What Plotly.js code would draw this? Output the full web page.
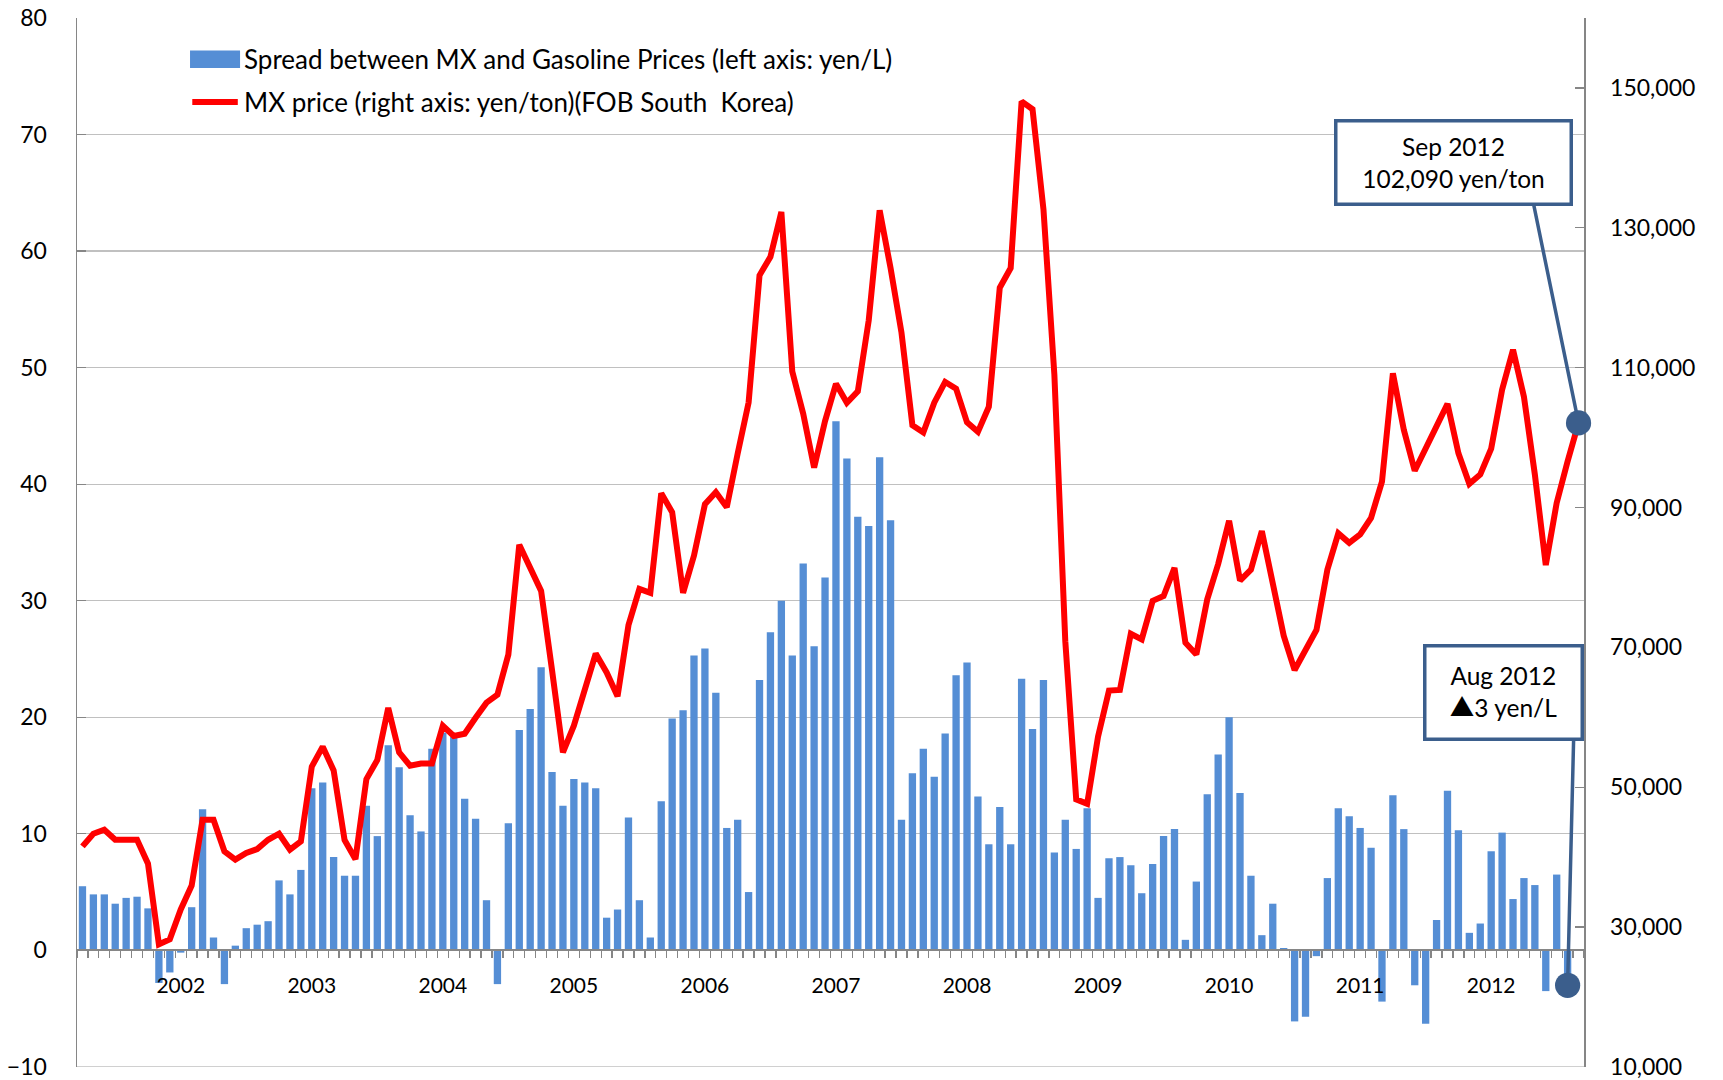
<!DOCTYPE html>
<html>
<head>
<meta charset="utf-8">
<script src="https://cdn.plot.ly/plotly-3.0.1.min.js"></script>
<style>
html,body{margin:0;padding:0;background:#fff;}
#chart{width:1723px;height:1080px;}
</style>
</head>
<body>
<div id="chart"></div>
<script>
// ---- Data (monthly, Apr 2001 - Sep 2012) ----
const monthNames = ['Jan','Feb','Mar','Apr','May','Jun','Jul','Aug','Sep','Oct','Nov','Dec'];
const firstYear = 2001;
const firstMonth = 3; // April (0-based)

// Spread between MX and gasoline prices, yen/L (left axis); no value for Sep 2012
const spread = [
  5.5, 4.8, 4.8, 4.0, 4.5, 4.6, 3.6, -2.8, -1.9,
  -0.2, 3.7, 12.1, 1.1, -2.9, 0.4, 1.9, 2.2, 2.5, 6.0, 4.8, 6.9,
  13.9, 14.4, 8.0, 6.4, 6.4, 12.4, 9.8, 17.6, 15.7, 11.6, 10.2, 17.3,
  18.7, 18.3, 13.0, 11.3, 4.3, -2.9, 10.9, 18.9, 20.7, 24.3, 15.3, 12.4,
  14.7, 14.4, 13.9, 2.8, 3.5, 11.4, 4.3, 1.1, 12.8, 19.9, 20.6, 25.3,
  25.9, 22.1, 10.5, 11.2, 5.0, 23.2, 27.3, 30.0, 25.3, 33.2, 26.1, 32.0,
  45.4, 42.2, 37.2, 36.4, 42.3, 36.9, 11.2, 15.2, 17.3, 14.9, 18.6, 23.6,
  24.7, 13.2, 9.1, 12.3, 9.1, 23.3, 19.0, 23.2, 8.4, 11.2, 8.7, 12.2,
  4.5, 7.9, 8.0, 7.3, 4.9, 7.4, 9.8, 10.4, 0.9, 5.9, 13.4, 16.8,
  20.0, 13.5, 6.4, 1.3, 4.0, 0.2, -6.1, -5.7, -0.5, 6.2, 12.2, 11.5,
  10.5, 8.8, -4.4, 13.3, 10.4, -3.0, -6.3, 2.6, 13.7, 10.3, 1.5, 2.3,
  8.5, 10.1, 4.4, 6.2, 5.6, -3.5, 6.5, -3.0, null
];

// MX price, yen/ton, FOB South Korea (right axis)
const mxPrice = [
  41530, 43340, 43910, 42480, 42480, 42480, 39060, 27520, 28230,
  32510, 35930, 45330, 45330, 40820, 39630, 40580, 41150, 42480, 43340, 41060, 42250,
  52940, 55790, 52400, 42440, 39700, 51150, 53890, 61330, 54970, 53060, 53380, 53380,
  58790, 57320, 57640, 59930, 62090, 63240, 68960, 84670, 81360, 78060, 66730, 54970,
  58790, 64190, 69100, 66400, 63000, 73160, 78360, 77790, 92030, 89320, 77790, 83130,
  90460, 92170, 90030, 97720, 105000, 123200, 125850, 132260, 109450, 103400, 95700, 102350,
  107690, 104980, 106600, 116750, 132500, 124240, 115010, 101770, 100730, 104980, 107950, 106990,
  102170, 100810, 104420, 121430, 124240, 148070, 146950, 132660, 109000, 70880, 48250, 47610,
  57240, 63820, 63900, 71940, 71130, 76650, 77330, 81370, 70660, 68980, 76860, 81910,
  88110, 79550, 81100, 86630, 79550, 71670, 66750, 69650, 72480, 81100, 86290, 84940,
  86150, 88510, 93700, 109200, 101110, 95250, 98420, 101990, 104820, 97750, 93370, 94710,
  98420, 106840, 112560, 105830, 94710, 81770, 90670, 96600, 102090
];

const leftTicks = [-10, 0, 10, 20, 30, 40, 50, 60, 70, 80];
const rightTicks = [10000, 30000, 50000, 70000, 90000, 110000, 130000, 150000];

const spreadName = 'Spread between MX and Gasoline Prices (left axis: yen/L)';
const priceName = 'MX price (right axis: yen/ton)(FOB South\u00a0 Korea)';

// month categories and year tick labels
const categories = mxPrice.map((_, k) => {
  const m = (firstMonth + k) % 12;
  const y = firstYear + Math.floor((firstMonth + k) / 12);
  return monthNames[m] + ' ' + y;
});
const tickText = categories.map(c => c.startsWith('Jan ') ? c.slice(4) : '');

const FONT = 'Lato, "Open Sans", sans-serif';
const AXIS_GRAY = '#868686';
const GRID_GRAY = '#c0c0c0';
const CALLOUT = '#3b5e8c';
const BAR_BLUE = '#558ed5';
const LINE_RED = '#ff0000';

const lastIdx = mxPrice.length - 1;
const lastSpreadIdx = (() => { for (let i = spread.length - 1; i >= 0; i--) if (spread[i] !== null) return i; return 0; })();

const traces = [
  {
    type: 'bar',
    name: spreadName,
    x: categories,
    y: spread,
    yaxis: 'y',
    marker: {color: BAR_BLUE, line: {width: 0}},
    showlegend: false,
    hoverinfo: 'x+y'
  },
  {
    type: 'scatter',
    mode: 'lines',
    name: priceName,
    x: categories,
    y: mxPrice,
    yaxis: 'y2',
    line: {color: LINE_RED, width: 6},
    showlegend: false,
    hoverinfo: 'x+y'
  }
];

// small extension so the -10 / 10,000 boundary labels are kept
const eps = 0.012;
const leftRange = [-10 - eps, 80];
const rightRange = [10000 - eps * (150000 / 90), 160000];

const layout = {
  width: 1723,
  height: 1080,
  paper_bgcolor: '#ffffff',
  plot_bgcolor: '#ffffff',
  margin: {l: 77, r: 139, t: 18, b: 13, pad: 0},
  font: {family: FONT, color: '#000000', size: 22},
  bargap: 0.33,
  showlegend: false,
  xaxis: {
    type: 'category',
    range: [-0.5, categories.length - 0.5],
    tickmode: 'array',
    tickvals: categories,
    ticktext: tickText,
    tickson: 'boundaries',
    ticks: 'outside',
    ticklen: 7,
    tickwidth: 1.3,
    tickcolor: AXIS_GRAY,
    showline: true,
    linecolor: AXIS_GRAY,
    linewidth: 2,
    showgrid: false,
    zeroline: false,
    anchor: 'free',
    position: (0 - leftRange[0]) / (leftRange[1] - leftRange[0]),
    tickangle: 0,
    tickfont: {family: FONT, size: 21, color: '#000'},
    ticklabelstandoff: 16,
    fixedrange: true
  },
  yaxis: {
    range: leftRange,
    tickmode: 'array',
    tickvals: leftTicks,
    showgrid: true,
    gridcolor: GRID_GRAY,
    gridwidth: 1.3,
    zeroline: false,
    showline: true,
    linecolor: AXIS_GRAY,
    linewidth: 1.5,
    ticks: 'inside',
    ticklen: 9,
    tickwidth: 1.3,
    tickcolor: AXIS_GRAY,
    tickfont: {family: FONT, size: 23, color: '#000'},
    ticklabelstandoff: 24,
    fixedrange: true
  },
  yaxis2: {
    overlaying: 'y',
    side: 'right',
    range: rightRange,
    tickmode: 'array',
    tickvals: rightTicks,
    tickformat: ',d',
    showgrid: false,
    zeroline: false,
    showline: true,
    linecolor: AXIS_GRAY,
    linewidth: 1.5,
    ticks: 'inside',
    ticklen: 9,
    tickwidth: 1.3,
    tickcolor: AXIS_GRAY,
    tickfont: {family: FONT, size: 23, color: '#000'},
    ticklabelstandoff: 20,
    fixedrange: true
  },
  shapes: [
    // bottom grid line at -10 (plotly drops it at the axis boundary)
    {type: 'line', xref: 'paper', yref: 'y', x0: 0, x1: 1, y0: leftTicks[0], y1: leftTicks[0],
     line: {color: GRID_GRAY, width: 1.3}, layer: 'below'},
    // legend swatches
    {type: 'rect', xref: 'paper', yref: 'paper', x0: 0.0750, x1: 0.1082, y0: 0.9523, y1: 0.9690,
     fillcolor: BAR_BLUE, line: {width: 0}},
    {type: 'line', xref: 'paper', yref: 'paper', x0: 0.0765, x1: 0.1067, y0: 0.9199, y1: 0.9199,
     line: {color: LINE_RED, width: 6}}
  ],
  annotations: [
    // legend labels
    {xref: 'paper', yref: 'paper', x: 0.1102, y: 0.9606, xanchor: 'left', yanchor: 'middle',
     text: spreadName, showarrow: false, borderpad: 0,
     font: {family: FONT, size: 26, color: '#000'}},
    {xref: 'paper', yref: 'paper', x: 0.1102, y: 0.9199, xanchor: 'left', yanchor: 'middle',
     text: priceName, showarrow: false, borderpad: 0,
     font: {family: FONT, size: 26, color: '#000'}},
    // callouts
    {
      xref: 'paper', yref: 'paper', x: 0.9134, y: 0.8622,
      xanchor: 'center', yanchor: 'middle',
      text: categories[lastIdx] + '<br>' + mxPrice[lastIdx].toLocaleString('en-US') + ' yen/ton',
      showarrow: false,
      bgcolor: '#ffffff', bordercolor: CALLOUT, borderwidth: 3.5, borderpad: 3,
      width: 226, height: 74,
      font: {family: FONT, size: 24.5, color: '#000'}
    },
    {
      xref: 'paper', yref: 'paper', x: 0.9466, y: 0.3572,
      xanchor: 'center', yanchor: 'middle',
      text: categories[lastSpreadIdx] + '<br><span style="font-family:\'Noto Sans CJK JP\'">\u25B2</span>' +
            Math.abs(spread[lastSpreadIdx]) + ' yen/L',
      showarrow: false,
      bgcolor: '#ffffff', bordercolor: CALLOUT, borderwidth: 3.5, borderpad: 3,
      width: 148, height: 84,
      font: {family: FONT, size: 24.5, color: '#000'}
    },
    {
      xref: 'x', yref: 'y2', x: categories[lastIdx], y: mxPrice[lastIdx],
      text: '', showarrow: true, arrowhead: 6, arrowsize: 1.8, arrowwidth: 3.5,
      arrowcolor: CALLOUT, ax: -45, ay: -219, standoff: 0, borderpad: 0
    },
    {
      xref: 'x', yref: 'y', x: categories[lastSpreadIdx], y: spread[lastSpreadIdx],
      text: '', showarrow: true, arrowhead: 6, arrowsize: 1.8, arrowwidth: 3.5,
      arrowcolor: CALLOUT, ax: 6, ay: -246, standoff: 0, borderpad: 0
    }
  ]
};

Plotly.newPlot('chart', traces, layout, {displayModeBar: false, staticPlot: true});
</script>
</body>
</html>
